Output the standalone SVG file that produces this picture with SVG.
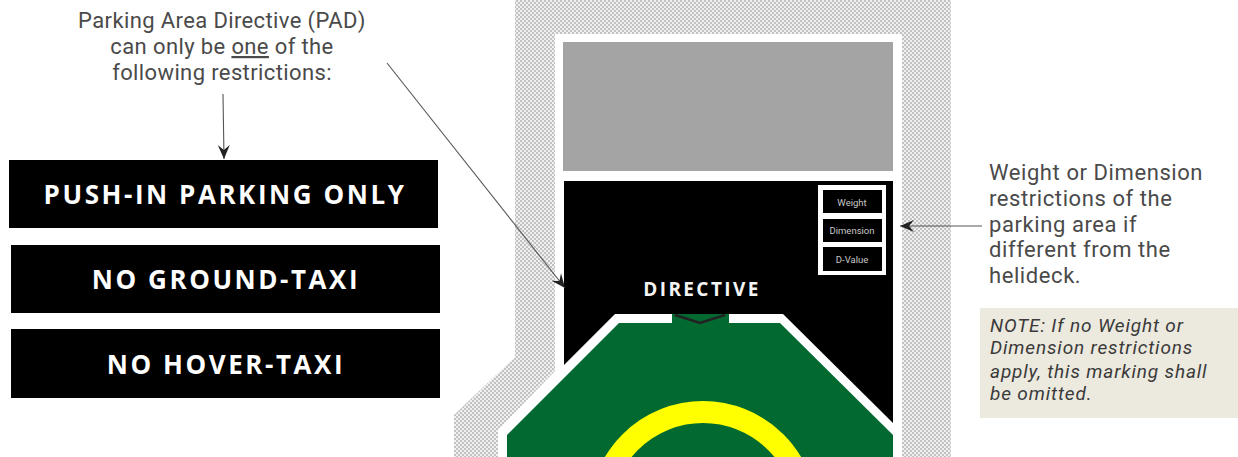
<svg xmlns="http://www.w3.org/2000/svg" width="1238" height="457" viewBox="0 0 1238 457">
<style>
.lbl{font-family:"Roboto","Liberation Sans",sans-serif;font-size:22px;letter-spacing:.38px;fill:#4a4a4a;text-anchor:middle}
.rt{font-family:"Roboto","Liberation Sans",sans-serif;font-size:22px;letter-spacing:.58px;fill:#4a4a4a}
.note{font-family:"Roboto","Liberation Sans",sans-serif;font-size:19px;font-style:italic;letter-spacing:.85px;fill:#3a3a3a}
.bar{font-family:"Open Sans","Liberation Sans",sans-serif;font-size:26px;font-weight:700;fill:#fff;text-anchor:middle;letter-spacing:2.55px}
.dir{font-family:"Open Sans","Liberation Sans",sans-serif;font-size:19px;font-weight:700;fill:#f4f4f4;text-anchor:middle;letter-spacing:2.4px}
.sm{font-family:"Roboto","Liberation Sans",sans-serif;font-size:9.5px;fill:#c8c8c8;text-anchor:middle}
.conn{fill:none;stroke:#555;stroke-width:1.1}
</style>
<defs>
<pattern id="hatch" width="4" height="4" patternUnits="userSpaceOnUse">
<rect width="4" height="4" fill="#f0f0f0"/>
<rect width="2" height="2" fill="#c2c2c2"/>
<rect x="2" y="2" width="2" height="2" fill="#c2c2c2"/>
</pattern>
<marker id="arr" markerWidth="16" markerHeight="14" refX="14" refY="7" orient="auto" markerUnits="userSpaceOnUse">
<path d="M0,1 L14,7 L0,13 L5,7 Z" fill="#222"/>
</marker>
</defs>
<rect width="1238" height="457" fill="#fff"/>
<g id="helideck-plan">
<path id="surround" d="M515,0H951V457H454V415L515,357Z" fill="url(#hatch)"/>
<path id="white-frame" d="M555,34H902V457H498V430L555,371Z" fill="#fff"/>
<rect id="grey-area" x="563" y="42" width="330" height="129" fill="#a4a4a4"/>
<path id="black-area" d="M564,181H893V423L783,314H615L564,365Z" fill="#000"/>
<path id="green-area" d="M619,323H780L893,435V457H507V435Z" fill="#026a30"/>
<rect id="gap" x="672" y="314" width="57" height="10" fill="#026a30"/>
<path id="chevron" d="M675,315L700,323L725,315" fill="none" stroke="#222" stroke-width="2.5"/>
<circle id="ring" cx="703" cy="515" r="103" fill="none" stroke="#ff0" stroke-width="22"/>
</g>
<g id="restrictions-box">
<rect x="818" y="185" width="68" height="90" fill="#fff"/>
<rect x="823" y="190" width="59" height="23" fill="#000"/>
<rect x="823" y="219" width="59" height="23" fill="#000"/>
<rect x="823" y="247" width="59" height="24" fill="#000"/>
<text class="sm" x="852" y="206">Weight</text>
<text class="sm" x="852" y="234">Dimension</text>
<text class="sm" x="852" y="263">D-Value</text>
</g>
<g id="directive-label"><text class="dir" x="702" y="296">DIRECTIVE</text></g>
<g id="bar-push-in">
<rect x="9" y="160" width="429" height="68" fill="#000"/>
<text class="bar" x="225" y="204">PUSH-IN PARKING ONLY</text>
</g>
<g id="bar-ground-taxi">
<rect x="11" y="245" width="429" height="68" fill="#000"/>
<text class="bar" x="226" y="289">NO GROUND-TAXI</text>
</g>
<g id="bar-hover-taxi">
<rect x="11" y="329" width="429" height="69" fill="#000"/>
<text class="bar" x="226" y="374">NO HOVER-TAXI</text>
</g>
<g id="pad-label">
<text class="lbl" x="222" y="28">Parking Area Directive (PAD)</text>
<text class="lbl" x="222" y="54">can only be <tspan text-decoration="underline">one</tspan> of the</text>
<text class="lbl" x="222" y="80">following restrictions:</text>
</g>
<g id="weight-label">
<text class="rt" x="989" y="180">Weight or Dimension</text>
<text class="rt" x="989" y="206">restrictions of the</text>
<text class="rt" x="989" y="232">parking area if</text>
<text class="rt" x="989" y="257">different from the</text>
<text class="rt" x="989" y="283">helideck.</text>
</g>
<g id="note">
<rect x="980" y="308" width="258" height="110" fill="#ecE9df"/>
<text class="note" x="990" y="332">NOTE: If no Weight or</text>
<text class="note" x="990" y="354">Dimension restrictions</text>
<text class="note" x="990" y="378">apply, this marking shall</text>
<text class="note" x="990" y="400">be omitted.</text>
</g>
<g id="connectors">
<path class="conn" d="M223,94L224,159" marker-end="url(#arr)"/>
<path class="conn" d="M387,63L565,288" marker-end="url(#arr)"/>
<path class="conn" d="M982,226H900" marker-end="url(#arr)"/>
</g>
</svg>
